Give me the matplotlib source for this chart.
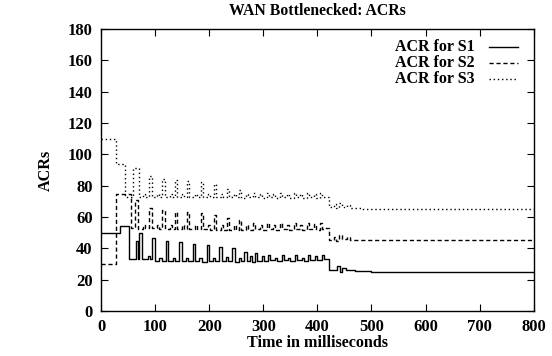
import matplotlib
matplotlib.use("Agg")
from matplotlib import pyplot as plt

# step breakpoints (ms) and allowed cell rates for each source
t_s1 = [0, 36, 51, 65, 68, 70, 75, 86, 90, 95, 99, 108, 112, 120, 124, 133, 137,
        145, 149, 157, 161, 170, 174, 182, 186, 195, 199, 207, 211, 219, 223,
        231, 235, 243, 247, 255, 259, 265, 269, 276, 280, 285, 289, 297, 301,
        309, 313, 322, 326, 334, 338, 346, 350, 358, 362, 371, 375, 383, 387,
        396, 400, 408, 412, 422, 437, 441, 446, 452, 460, 470, 500, 800]
acr_s1 = [50, 54, 33, 45, 33, 50, 33, 35, 33, 46.5, 32, 34, 32, 45, 32, 34, 32,
          44, 32, 34, 32, 43, 32, 34, 31.5, 42, 32, 34, 32, 41, 32,
          34.5, 32, 40, 31.5, 34, 32, 38, 32, 35, 31.5, 37, 32, 35, 32,
          35.5, 32.5, 34, 32, 35.5, 32.5, 34, 32, 35.5, 32.5, 34, 32, 35.5, 32.5,
          35, 32.5, 35.5, 33, 26, 28.5, 25, 27.5, 26, 26.5, 25.5, 24.8, 24.8]

t_s2 = [0, 28, 56, 62, 68, 78, 82, 89, 94, 104, 108, 113, 118, 127, 131, 137,
        141, 150, 154, 159, 163, 173, 177, 184, 188, 198, 202, 209, 213, 222,
        226, 233, 237, 246, 250, 255, 259, 268, 272, 281, 285, 293, 297, 306,
        310, 318, 322, 331, 335, 343, 347, 356, 360, 368, 372, 381, 385, 393,
        397, 405, 409, 414, 422, 430, 434, 440, 446, 455, 460, 480, 800]
acr_s2 = [30, 74.5, 53, 71, 52.5, 55, 53, 65.5, 53, 55, 52.5, 64.5, 52.5, 55, 52.5, 63.5,
          52.5, 55, 52.5, 63, 52.5, 55, 52.5, 62.5, 52.5, 55, 52, 61.5, 52, 55,
          52, 59.5, 52, 55, 52, 58, 52, 55, 52, 56, 52.5, 55, 52, 56,
          52.5, 55, 52, 56, 52.5, 55, 52, 56, 52.5, 55, 52, 56, 52.5, 55.5,
          52, 56, 52.5, 53, 45.5, 47, 45, 48.5, 46, 47, 45.5, 45.2, 45.2]

t_s3 = [0, 28, 44, 60, 70, 78, 82, 88, 94, 104, 108, 113, 118, 127, 131, 136,
        140, 150, 154, 159, 163, 173, 177, 184, 188, 198, 202, 209, 213, 222,
        226, 233, 237, 246, 250, 255, 259, 268, 272, 281, 285, 293, 297, 306,
        310, 318, 322, 331, 335, 343, 347, 356, 360, 368, 372, 381, 385, 393,
        397, 405, 409, 414, 422, 430, 434, 440, 446, 455, 460, 480, 800]
acr_s3 = [110, 94, 73, 91, 73, 75, 72.5, 86, 72.5, 75, 72.5, 84, 72.5, 75, 72.5, 83.5,
          72.5, 75, 72.5, 83, 72.5, 75, 72.5, 82.5, 72.5, 75, 72.5, 81, 72.5, 75,
          72.5, 78, 72.5, 75, 72.5, 77, 72, 75, 72.5, 75.5, 72.5, 74.5, 72, 75.5,
          72.5, 74.5, 72, 75.5, 72.5, 74.5, 72, 75.5, 72.5, 74.5, 72, 75.5, 72.5, 75,
          72, 75.5, 72.5, 73, 66.5, 68.5, 66, 68.7, 66.5, 67.5, 65.5, 65, 65]

x_ticks = list(range(0, 801, 100))
y_ticks = list(range(0, 181, 20))

plt.rcParams['font.family'] = ['Liberation Serif', 'DejaVu Serif']
plt.rcParams['font.weight'] = 'bold'
plt.rcParams['font.size'] = 12

fig = plt.figure(figsize=(5.52, 3.56), dpi=100)
ax = fig.add_axes([0.183, 0.126, 0.784, 0.793])

series = [
    (t_s1, acr_s1, '-', 'ACR for S1'),
    (t_s2, acr_s2, (0, (3, 2)), 'ACR for S2'),
    (t_s3, acr_s3, (0, (1, 2)), 'ACR for S3'),
]

# gnuplot-style key: right-aligned label, sample line to its right
key_rows = [0.936, 0.879, 0.823]
for (t, acr, ls, name), ky in zip(series, key_rows):
    ax.step(t, acr, where='post', color='black', lw=1.0, linestyle=ls)
    ax.text(0.864, ky, name, transform=ax.transAxes, ha='right', va='center',
            fontsize=11.5, fontweight='bold')
    ax.plot([0.896, 0.963], [ky, ky], transform=ax.transAxes, color='black',
            lw=1.0, linestyle=ls)

ax.set_xlim(0, 800)
ax.set_ylim(0, 180)
ax.set_xticks(x_ticks)
ax.set_yticks(y_ticks)
ax.tick_params(direction='in', length=5, width=0.8, top=True, right=True,
               labelsize=12, pad=6)
for lbl in ax.get_xticklabels() + ax.get_yticklabels():
    lbl.set_fontweight('bold')
for sp in ax.spines.values():
    sp.set_linewidth(1.0)

ax.set_title('WAN Bottlenecked: ACRs', fontsize=11.3, fontweight='bold', pad=10)
ax.set_xlabel('Time in milliseconds', fontsize=11.6, fontweight='bold', labelpad=0)
ax.set_ylabel('ACRs', fontsize=11.6, fontweight='bold', labelpad=10)

fig.savefig('out.png', dpi=100)
